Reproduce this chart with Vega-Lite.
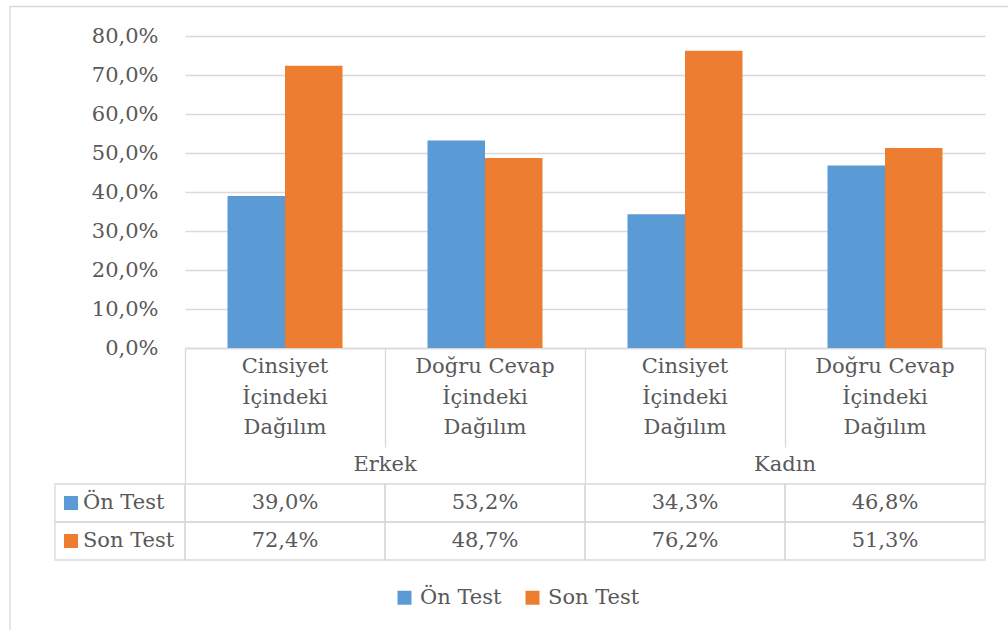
{
  "$schema": "https://vega.github.io/schema/vega-lite/v6.json",
  "width": 800,
  "height": 312,
  "autosize": {"type": "none"},
  "padding": {"left": 185, "top": 36, "right": 23, "bottom": 282},
  "background": "white",
  "config": {
    "font": "DejaVu Serif",
    "view": {"stroke": null},
    "locale": {"number": {"decimal": ",", "thousands": ".", "grouping": [3], "currency": ["", " ₺"]}},
    "text": {"font": "DejaVu Serif", "fontSize": 21, "color": "#595959"},
    "axis": {"labelFont": "DejaVu Serif", "labelFontSize": 21, "labelColor": "#595959", "title": null},
    "legend": {"labelFont": "DejaVu Serif"}
  },
  "datasets": {
    "olcum": [
      {"grup": "Erkek", "kategori": "Cinsiyet İçindeki Dağılım", "sutun": "Erkek: Cinsiyet İçindeki Dağılım", "seri": "Ön Test", "deger": 0.390},
      {"grup": "Erkek", "kategori": "Cinsiyet İçindeki Dağılım", "sutun": "Erkek: Cinsiyet İçindeki Dağılım", "seri": "Son Test", "deger": 0.724},
      {"grup": "Erkek", "kategori": "Doğru Cevap İçindeki Dağılım", "sutun": "Erkek: Doğru Cevap İçindeki Dağılım", "seri": "Ön Test", "deger": 0.532},
      {"grup": "Erkek", "kategori": "Doğru Cevap İçindeki Dağılım", "sutun": "Erkek: Doğru Cevap İçindeki Dağılım", "seri": "Son Test", "deger": 0.487},
      {"grup": "Kadın", "kategori": "Cinsiyet İçindeki Dağılım", "sutun": "Kadın: Cinsiyet İçindeki Dağılım", "seri": "Ön Test", "deger": 0.343},
      {"grup": "Kadın", "kategori": "Cinsiyet İçindeki Dağılım", "sutun": "Kadın: Cinsiyet İçindeki Dağılım", "seri": "Son Test", "deger": 0.762},
      {"grup": "Kadın", "kategori": "Doğru Cevap İçindeki Dağılım", "sutun": "Kadın: Doğru Cevap İçindeki Dağılım", "seri": "Ön Test", "deger": 0.468},
      {"grup": "Kadın", "kategori": "Doğru Cevap İçindeki Dağılım", "sutun": "Kadın: Doğru Cevap İçindeki Dağılım", "seri": "Son Test", "deger": 0.513}
    ],
    "sutunlar": [
      {"sutun": "Erkek: Cinsiyet İçindeki Dağılım", "grup": "Erkek", "etiket": "Cinsiyet\nİçindeki\nDağılım"},
      {"sutun": "Erkek: Doğru Cevap İçindeki Dağılım", "grup": "Erkek", "etiket": "Doğru Cevap\nİçindeki\nDağılım"},
      {"sutun": "Kadın: Cinsiyet İçindeki Dağılım", "grup": "Kadın", "etiket": "Cinsiyet\nİçindeki\nDağılım"},
      {"sutun": "Kadın: Doğru Cevap İçindeki Dağılım", "grup": "Kadın", "etiket": "Doğru Cevap\nİçindeki\nDağılım"}
    ],
    "gruplar": [{"grup": "Erkek"}, {"grup": "Kadın"}],
    "seriler": [{"seri": "Ön Test"}, {"seri": "Son Test"}]
  },
  "layer": [
    {
      "data": {"values": [{"cerceve": "grafik alanı"}]},
      "mark": {"type": "rect", "filled": false, "stroke": "#d9d9d9", "strokeWidth": 1.3},
      "encoding": {
        "x": {"datum": 0, "type": "quantitative", "scale": {"domain": [0, 1], "range": [-175, 840]}, "axis": null},
        "x2": {"datum": 1},
        "y": {"datum": 0, "type": "quantitative", "scale": {"domain": [0, 1], "range": [-29.5, 620]}, "axis": null},
        "y2": {"datum": 1}
      }
    },
    {
      "data": {"name": "olcum"},
      "mark": {"type": "bar"},
      "encoding": {
        "x": {
          "field": "sutun", "type": "nominal", "sort": null,
          "scale": {"paddingInner": 0, "paddingOuter": 0},
          "axis": {"orient": "bottom", "labels": false, "domain": true, "domainColor": "#d9d9d9", "domainWidth": 1.3, "ticks": true, "tickBand": "extent", "tickSize": 99, "tickColor": "#d9d9d9", "tickWidth": 1.3, "grid": false, "title": null}
        },
        "xOffset": {"field": "seri", "type": "nominal", "sort": ["Ön Test", "Son Test"], "scale": {"paddingInner": 0, "paddingOuter": 0.739}},
        "y": {
          "field": "deger", "type": "quantitative",
          "scale": {"domain": [0, 0.8], "nice": false},
          "axis": {"values": [0, 0.1, 0.2, 0.3, 0.4, 0.5, 0.6, 0.7, 0.8], "format": ".1%", "grid": true, "gridColor": "#d9d9d9", "gridWidth": 1.3, "domain": false, "ticks": false, "tickSize": 0, "labelPadding": 27, "title": null}
        },
        "color": {
          "field": "seri", "type": "nominal",
          "scale": {"domain": ["Ön Test", "Son Test"], "range": ["#5b9bd5", "#ed7d31"]},
          "legend": {"orient": "none", "legendX": 209, "legendY": 551, "direction": "horizontal", "title": null, "symbolType": "square", "symbolSize": 196, "symbolStrokeWidth": 0, "symbolOpacity": 1, "labelFontSize": 21, "labelColor": "#595959", "labelOffset": 5, "columnPadding": 20, "padding": 0, "labelLimit": 0}
        }
      }
    },
    {
      "layer": [
        {
          "data": {"name": "olcum"},
          "mark": {"type": "rect", "filled": false, "stroke": "#d9d9d9", "strokeWidth": 1.3},
          "encoding": {
            "x": {"field": "sutun", "type": "nominal", "sort": null, "scale": {"paddingInner": 0, "paddingOuter": 0}, "axis": null},
            "y": {"field": "seri", "type": "nominal", "scale": {"type": "band", "domain": ["Kategori", "Grup", "Ön Test", "Son Test"], "range": [372, 524], "paddingInner": 0, "paddingOuter": 0}, "axis": null}
          }
        },
        {
          "data": {"name": "olcum"},
          "mark": {"type": "text", "baseline": "middle"},
          "encoding": {
            "x": {"field": "sutun", "type": "nominal", "sort": null, "scale": {"paddingInner": 0, "paddingOuter": 0}, "axis": null},
            "y": {"field": "seri", "type": "nominal", "scale": {"type": "band", "domain": ["Kategori", "Grup", "Ön Test", "Son Test"], "range": [372, 524], "paddingInner": 0, "paddingOuter": 0}, "axis": null},
            "text": {"field": "deger", "type": "quantitative", "format": ".1%"}
          }
        },
        {
          "data": {"name": "sutunlar"},
          "mark": {"type": "text", "baseline": "middle", "lineBreak": "\n", "lineHeight": 30.5, "dy": -60},
          "encoding": {
            "x": {"field": "sutun", "type": "nominal", "sort": null, "scale": {"paddingInner": 0, "paddingOuter": 0}, "axis": null},
            "y": {"datum": "Kategori", "type": "nominal", "scale": {"type": "band", "domain": ["Kategori", "Grup", "Ön Test", "Son Test"], "range": [372, 524], "paddingInner": 0, "paddingOuter": 0}, "axis": null},
            "text": {"field": "etiket", "type": "nominal"}
          }
        }
      ]
    },
    {
      "data": {"name": "gruplar"},
      "mark": {"type": "text", "baseline": "middle"},
      "encoding": {
        "x": {
          "field": "grup", "type": "nominal", "sort": null,
          "scale": {"paddingInner": 0, "paddingOuter": 0},
          "axis": {"orient": "bottom", "offset": 98, "labels": false, "domain": false, "ticks": true, "tickBand": "extent", "tickSize": 38, "tickColor": "#d9d9d9", "tickWidth": 1.3, "grid": false, "title": null}
        },
        "y": {"datum": "Grup", "type": "nominal", "scale": {"type": "band", "domain": ["Kategori", "Grup", "Ön Test", "Son Test"], "range": [372, 524], "paddingInner": 0, "paddingOuter": 0}, "axis": null},
        "text": {"field": "grup", "type": "nominal"}
      }
    },
    {
      "data": {"name": "seriler"},
      "layer": [
        {
          "mark": {"type": "rect", "filled": false, "stroke": "#d9d9d9", "strokeWidth": 1.3},
          "encoding": {
            "x": {"datum": 0, "type": "quantitative", "scale": {"domain": [0, 1], "range": [-130, 0]}, "axis": null},
            "x2": {"datum": 1},
            "y": {"field": "seri", "type": "nominal", "scale": {"type": "band", "domain": ["Kategori", "Grup", "Ön Test", "Son Test"], "range": [372, 524], "paddingInner": 0, "paddingOuter": 0}, "axis": null}
          }
        },
        {
          "mark": {"type": "point", "shape": "square", "filled": true, "size": 196, "opacity": 1},
          "encoding": {
            "x": {"datum": 0.123, "type": "quantitative", "scale": {"domain": [0, 1], "range": [-130, 0]}, "axis": null},
            "y": {"field": "seri", "type": "nominal", "scale": {"type": "band", "domain": ["Kategori", "Grup", "Ön Test", "Son Test"], "range": [372, 524], "paddingInner": 0, "paddingOuter": 0}, "axis": null},
            "color": {"field": "seri", "type": "nominal", "scale": {"domain": ["Ön Test", "Son Test"], "range": ["#5b9bd5", "#ed7d31"]}}
          }
        },
        {
          "mark": {"type": "text", "align": "left", "baseline": "middle"},
          "encoding": {
            "x": {"datum": 0.215, "type": "quantitative", "scale": {"domain": [0, 1], "range": [-130, 0]}, "axis": null},
            "y": {"field": "seri", "type": "nominal", "scale": {"type": "band", "domain": ["Kategori", "Grup", "Ön Test", "Son Test"], "range": [372, 524], "paddingInner": 0, "paddingOuter": 0}, "axis": null},
            "text": {"field": "seri", "type": "nominal"}
          }
        }
      ]
    }
  ],
  "resolve": {"scale": {"x": "independent", "y": "independent", "xOffset": "independent"}}
}
